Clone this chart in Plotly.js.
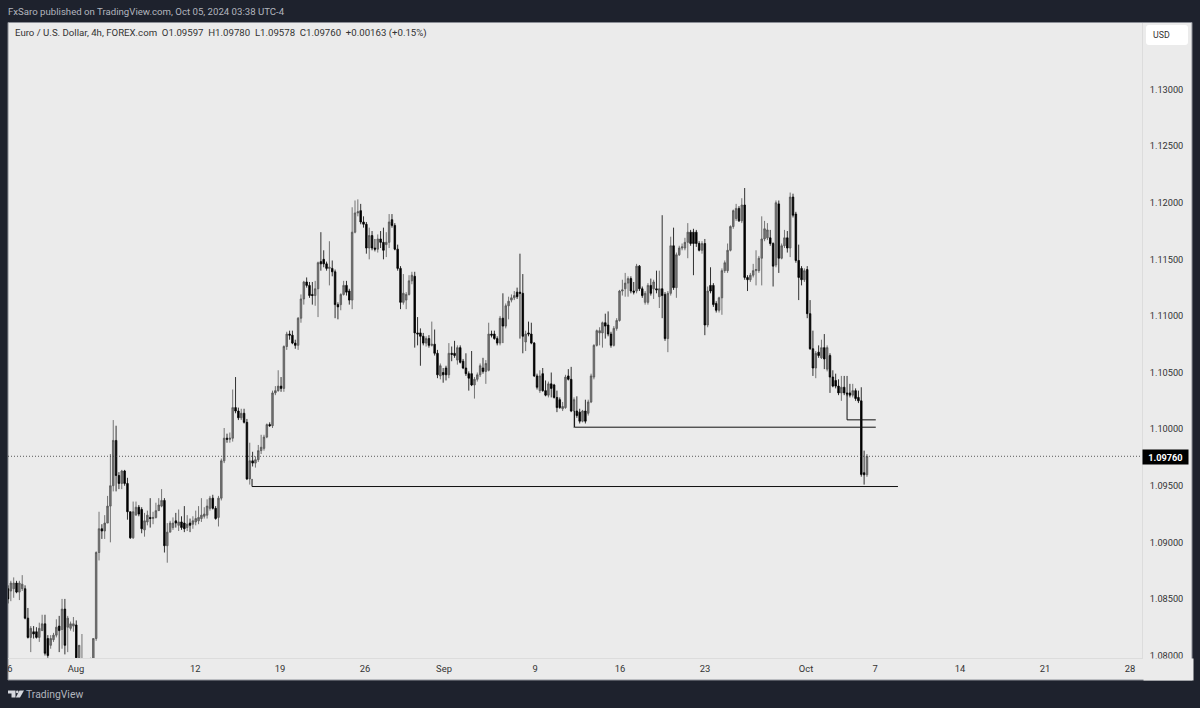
<!DOCTYPE html>
<html>
<head>
<meta charset="utf-8">
<script src="https://cdn.plot.ly/plotly-3.0.1.min.js"></script>
<style>html,body{margin:0;padding:0;background:#1e222d;overflow:hidden}</style>
</head>
<body>
<div id="chart" style="width:1200px;height:708px"></div>
<script>
const opens = [
1.0859,1.0857,1.0859,1.0864,1.0856,1.0859,1.0859,1.0833,1.0816,1.0821,
1.0821,1.0816,1.0822,1.0828,1.0815,1.0809,1.0814,1.0818,1.0826,1.0823,
1.0841,1.0825,1.0824,1.0826,1.0827,1.0798,1.0790,1.0790,1.0788,1.0785,
1.0792,1.0815,1.0891,1.0912,1.0910,1.0917,1.0932,1.0950,1.0990,1.0959,
1.0952,1.0963,1.0952,1.0927,1.0904,1.0924,1.0931,1.0929,1.0911,1.0918,
1.0922,1.0921,1.0922,1.0928,1.0932,1.0937,1.0897,1.0909,1.0913,1.0919,
1.0915,1.0918,1.0917,1.0913,1.0917,1.0916,1.0918,1.0919,1.0921,1.0923,
1.0924,1.0930,1.0939,1.0930,1.0922,1.0939,1.0972,1.0992,1.0991,1.0992,
1.1019,1.1016,1.1010,1.1014,1.1006,1.0956,1.0972,1.0970,1.0973,1.0981,
1.0983,1.0993,1.1004,1.1003,1.1032,1.1034,1.1038,1.1036,1.1073,1.1084,
1.1083,1.1076,1.1074,1.1098,1.1115,1.1130,1.1127,1.1119,1.1118,1.1124,
1.1148,1.1150,1.1146,1.1142,1.1142,1.1139,1.1110,1.1110,1.1119,1.1127,
1.1122,1.1114,1.1174,1.1191,1.1193,1.1183,1.1181,1.1160,1.1171,1.1160,
1.1159,1.1168,1.1165,1.1163,1.1165,1.1185,1.1180,1.1159,1.1142,1.1112,
1.1114,1.1119,1.1131,1.1135,1.1085,1.1085,1.1082,1.1076,1.1080,1.1074,
1.1075,1.1067,1.1047,1.1050,1.1054,1.1048,1.1067,1.1067,1.1061,1.1072,
1.1060,1.1054,1.1049,1.1049,1.1039,1.1044,1.1048,1.1054,1.1051,1.1052,
1.1084,1.1084,1.1080,1.1076,1.1098,1.1091,1.1109,1.1114,1.1116,1.1121,
1.1121,1.1120,1.1077,1.1085,1.1084,1.1076,1.1047,1.1034,1.1049,1.1034,
1.1030,1.1040,1.1039,1.1028,1.1026,1.1018,1.1019,1.1047,1.1044,1.1016,
1.1016,1.1015,1.1007,1.1016,1.1014,1.1024,1.1046,1.1074,1.1085,1.1085,
1.1094,1.1092,1.1084,1.1074,1.1089,1.1096,1.1122,1.1124,1.1129,1.1133,
1.1122,1.1122,1.1144,1.1124,1.1112,1.1112,1.1127,1.1124,1.1124,1.1117,
1.1124,1.1119,1.1080,1.1120,1.1162,1.1125,1.1154,1.1160,1.1160,1.1165,
1.1174,1.1174,1.1174,1.1164,1.1158,1.1164,1.1092,1.1127,1.1127,1.1111,
1.1105,1.1116,1.1140,1.1140,1.1158,1.1179,1.1186,1.1195,1.1184,1.1198,
1.1134,1.1132,1.1136,1.1140,1.1140,1.1151,1.1168,1.1169,1.1169,1.1164,
1.1145,1.1199,1.1151,1.1162,1.1169,1.1160,1.1205,1.1190,1.1149,1.1142,
1.1132,1.1141,1.1102,1.1071,1.1054,1.1068,1.1063,1.1072,1.1053,1.1065,
1.1046,1.1043,1.1038,1.1032,1.1037,1.1032,1.1032,1.1030,1.1034,1.1028,
1.1025,1.09615,1.09597];
const highs = [
1.0862,1.0866,1.0869,1.0866,1.0866,1.0871,1.0862,1.0842,1.0826,1.0826,
1.0825,1.0829,1.0836,1.0836,1.0818,1.0818,1.0820,1.0832,1.0835,1.0850,
1.0850,1.0835,1.0830,1.0834,1.0831,1.0809,1.0819,1.0794,1.0790,1.0798,
1.0815,1.0892,1.0927,1.0916,1.0924,1.0941,1.0978,1.1008,1.1003,1.0962,
1.0964,1.0964,1.0957,1.0927,1.0936,1.0936,1.0933,1.0931,1.0926,1.0928,
1.0939,1.0927,1.0935,1.0939,1.0947,1.0939,1.0917,1.0919,1.0922,1.0926,
1.0929,1.0923,1.0932,1.0924,1.0921,1.0923,1.0928,1.0932,1.0939,1.0931,
1.0938,1.0941,1.0942,1.0932,1.0941,1.0974,1.1001,1.0996,1.0997,1.1035,
1.1046,1.1019,1.1018,1.1018,1.1009,1.0988,1.0980,1.0976,1.0986,1.0995,
1.0995,1.1005,1.1006,1.1034,1.1038,1.1052,1.1046,1.1074,1.1086,1.1087,
1.1087,1.1079,1.1099,1.1119,1.1131,1.1134,1.1130,1.1130,1.1131,1.1148,
1.1174,1.1158,1.1148,1.1166,1.1149,1.1141,1.1112,1.1120,1.1131,1.1131,
1.1124,1.1196,1.1202,1.1203,1.1199,1.1188,1.1183,1.1178,1.1175,1.1168,
1.1172,1.1175,1.1178,1.1174,1.1190,1.1190,1.1182,1.1163,1.1144,1.1137,
1.1121,1.1136,1.1139,1.1139,1.1099,1.1089,1.1085,1.1082,1.1083,1.1095,
1.1088,1.1070,1.1058,1.1054,1.1056,1.1076,1.1073,1.1078,1.1074,1.1074,
1.1062,1.1067,1.1051,1.1069,1.1046,1.1050,1.1058,1.1063,1.1061,1.1094,
1.1087,1.1087,1.1082,1.1100,1.1120,1.1111,1.1117,1.1119,1.1122,1.1125,
1.1155,1.1137,1.1087,1.1095,1.1094,1.1077,1.1049,1.1052,1.1054,1.1043,
1.1042,1.1050,1.1040,1.1034,1.1028,1.1024,1.1048,1.1053,1.1055,1.1028,
1.1029,1.1018,1.1017,1.1026,1.1026,1.1049,1.1075,1.1088,1.1090,1.1095,
1.1102,1.1104,1.1086,1.1091,1.1098,1.1123,1.1132,1.1138,1.1135,1.1135,
1.1130,1.1146,1.1145,1.1126,1.1122,1.1129,1.1133,1.1132,1.1140,1.1140,
1.1189,1.1121,1.1122,1.1170,1.1178,1.1156,1.1162,1.1164,1.1169,1.1182,
1.1176,1.1177,1.1176,1.1166,1.1166,1.1168,1.1126,1.1143,1.1129,1.1113,
1.1117,1.1142,1.1149,1.1164,1.1180,1.1194,1.1199,1.1197,1.1204,1.1213,
1.1136,1.1138,1.1146,1.1158,1.1153,1.1188,1.1184,1.1182,1.1176,1.1165,
1.1202,1.1202,1.1164,1.1176,1.1175,1.1209,1.1208,1.1192,1.1163,1.1144,
1.1142,1.1144,1.1114,1.1087,1.1069,1.1074,1.1079,1.1084,1.1074,1.1067,
1.1052,1.1049,1.1044,1.1047,1.1047,1.1047,1.1040,1.1040,1.1036,1.1034,
1.1037,1.0981,1.09780];
const lows = [
1.0846,1.0848,1.0851,1.0855,1.0849,1.0857,1.0832,1.0815,1.0803,1.0815,
1.0815,1.0812,1.0822,1.0800,1.0798,1.0806,1.0812,1.0816,1.0803,1.0806,
1.0801,1.0803,1.0822,1.0821,1.0796,1.0795,1.0785,1.0780,1.0782,1.0780,
1.0790,1.0813,1.0884,1.0903,1.0903,1.0917,1.0900,1.0945,1.0945,1.0947,
1.0947,1.0950,1.0920,1.0903,1.0903,1.0924,1.0923,1.0908,1.0905,1.0915,
1.0913,1.0916,1.0921,1.0928,1.0931,1.0891,1.0882,1.0909,1.0911,1.0913,
1.0910,1.0911,1.0909,1.0910,1.0909,1.0912,1.0915,1.0916,1.0918,1.0921,
1.0921,1.0928,1.0929,1.0920,1.0914,1.0937,1.0970,1.0988,1.0988,1.0989,
1.1014,1.1008,1.1008,1.1005,1.0955,1.0951,1.0967,1.0966,1.0971,1.0978,
1.0981,1.0992,1.1002,1.1001,1.1030,1.1033,1.1033,1.1033,1.1070,1.1079,
1.1075,1.1071,1.1070,1.1094,1.1110,1.1125,1.1116,1.1110,1.1109,1.1099,
1.1140,1.1143,1.1140,1.1127,1.1135,1.1098,1.1097,1.1105,1.1118,1.1118,
1.1110,1.1106,1.1173,1.1188,1.1181,1.1178,1.1155,1.1150,1.1158,1.1157,
1.1156,1.1160,1.1150,1.1152,1.1160,1.1178,1.1158,1.1140,1.1106,1.1110,
1.1106,1.1118,1.1128,1.1072,1.1074,1.1056,1.1074,1.1073,1.1072,1.1073,
1.1065,1.1045,1.1044,1.1041,1.1043,1.1045,1.1060,1.1063,1.1057,1.1058,
1.1053,1.1047,1.1034,1.1038,1.1027,1.1042,1.1046,1.1049,1.1040,1.1051,
1.1081,1.1079,1.1074,1.1074,1.1076,1.1089,1.1097,1.1112,1.1114,1.1115,
1.1080,1.1067,1.1069,1.1082,1.1075,1.1046,1.1035,1.1032,1.1033,1.1029,
1.1028,1.1028,1.1027,1.1015,1.1018,1.1016,1.1018,1.1043,1.1015,1.1001,
1.1010,1.1005,1.1006,1.1005,1.1012,1.1023,1.1044,1.1073,1.1074,1.1072,
1.1080,1.1082,1.1072,1.1073,1.1087,1.1095,1.1118,1.1117,1.1117,1.1120,
1.1119,1.1120,1.1122,1.1116,1.1110,1.1110,1.1118,1.1115,1.1120,1.1107,
1.1098,1.1078,1.1068,1.1118,1.1123,1.1116,1.1153,1.1158,1.1158,1.1151,
1.1162,1.1136,1.1161,1.1157,1.1155,1.1083,1.1090,1.1120,1.1108,1.1103,
1.1103,1.1101,1.1138,1.1138,1.1157,1.1177,1.1184,1.1183,1.1182,1.1132,
1.1122,1.1130,1.1134,1.1127,1.1138,1.1127,1.1166,1.1167,1.1162,1.1126,
1.1143,1.1138,1.1150,1.1160,1.1156,1.1152,1.1187,1.1147,1.1114,1.1127,
1.1130,1.1098,1.1070,1.1047,1.1045,1.1063,1.1062,1.1053,1.1051,1.1032,
1.1037,1.1036,1.1030,1.1025,1.1030,1.1029,1.1028,1.1028,1.1025,1.1023,
1.0958,1.0951,1.09578];
const closes = [
1.0850,1.0864,1.0864,1.0856,1.0864,1.0863,1.0833,1.0816,1.0824,1.0819,
1.0816,1.0824,1.0828,1.0802,1.0800,1.0815,1.0818,1.0825,1.0822,1.0841,
1.0809,1.0833,1.0828,1.0828,1.0798,1.0809,1.0795,1.0788,1.0785,1.0790,
1.0815,1.0891,1.0912,1.0910,1.0917,1.0932,1.0950,1.0990,1.0959,1.0952,
1.0963,1.0952,1.0927,1.0904,1.0927,1.0931,1.0925,1.0912,1.0919,1.0924,
1.0921,1.0922,1.0928,1.0933,1.0937,1.0897,1.0909,1.0917,1.0917,1.0917,
1.0918,1.0913,1.0912,1.0916,1.0915,1.0919,1.0921,1.0922,1.0924,1.0925,
1.0932,1.0939,1.0930,1.0921,1.0939,1.0972,1.0992,1.0991,1.0992,1.1019,
1.1016,1.1010,1.1014,1.1006,1.0956,1.0972,1.0970,1.0973,1.0981,1.0984,
1.0993,1.1004,1.1003,1.1032,1.1034,1.1038,1.1036,1.1073,1.1084,1.1083,
1.1076,1.1074,1.1098,1.1115,1.1130,1.1127,1.1118,1.1118,1.1124,1.1147,
1.1146,1.1146,1.1142,1.1143,1.1139,1.1110,1.1108,1.1119,1.1127,1.1121,
1.1114,1.1174,1.1191,1.1192,1.1183,1.1181,1.1160,1.1171,1.1160,1.1159,
1.1168,1.1165,1.1158,1.1165,1.1183,1.1180,1.1159,1.1142,1.1112,1.1120,
1.1119,1.1131,1.1136,1.1085,1.1084,1.1082,1.1076,1.1080,1.1074,1.1075,
1.1067,1.1048,1.1056,1.1048,1.1048,1.1067,1.1066,1.1065,1.1072,1.1059,
1.1054,1.1049,1.1045,1.1039,1.1044,1.1048,1.1056,1.1051,1.1058,1.1084,
1.1083,1.1080,1.1076,1.1098,1.1091,1.1109,1.1113,1.1116,1.1118,1.1117,
1.1120,1.1082,1.1084,1.1084,1.1076,1.1047,1.1037,1.1047,1.1034,1.1030,
1.1040,1.1036,1.1028,1.1019,1.1019,1.1020,1.1046,1.1044,1.1016,1.1026,
1.1012,1.1007,1.1016,1.1007,1.1024,1.1047,1.1074,1.1087,1.1087,1.1094,
1.1091,1.1084,1.1074,1.1089,1.1096,1.1122,1.1123,1.1129,1.1133,1.1122,
1.1121,1.1144,1.1124,1.1118,1.1120,1.1127,1.1120,1.1130,1.1123,1.1124,
1.1118,1.1080,1.1120,1.1162,1.1125,1.1154,1.1160,1.1161,1.1165,1.1174,
1.1164,1.1164,1.1164,1.1158,1.1164,1.1092,1.1122,1.1122,1.1110,1.1105,
1.1116,1.1140,1.1147,1.1158,1.1179,1.1193,1.1195,1.1184,1.1198,1.1134,
1.1132,1.1136,1.1140,1.1141,1.1151,1.1168,1.1177,1.1176,1.1164,1.1144,
1.1200,1.1151,1.1162,1.1169,1.1160,1.1205,1.1189,1.1149,1.1134,1.1132,
1.1140,1.1102,1.1071,1.1054,1.1067,1.1065,1.1072,1.1062,1.1072,1.1046,
1.1038,1.1038,1.1032,1.1037,1.1032,1.1031,1.1030,1.1034,1.1027,1.1025,
1.0960,1.09597,1.09760];

const timeTickBars  = [0.7,23.9,65.8,95.6,125.5,153.3,185.3,215.2,245.1,280.6,304.9,334.7,364.6,394.5];
const timeTickText  = ['6','Aug','12','19','26','Sep','9','16','23','Oct','7','14','21','28'];
const priceTicks    = [1.08,1.085,1.09,1.095,1.10,1.105,1.11,1.115,1.12,1.125,1.13];
const lastPrice     = 1.0976;

const supportLowBars   = [85.8,85.8,312.9];
const supportLowPrices = [1.0956,1.09493,1.09493];
const supportMidBars   = [199.2,199.2,305.1];
const supportMidPrices = [1.1016,1.10017,1.10017];
const supportTopBars   = [295,295,305.1];
const supportTopPrices = [1.1031,1.10082,1.10082];

const headerText = 'FxSaro published on TradingView.com, Oct 05, 2024 03:38 UTC-4';
const legendText = 'Euro / U.S. Dollar, 4h, FOREX.com\u00a0\u00a0O1.09597\u00a0\u00a0H1.09780\u00a0\u00a0L1.09578\u00a0\u00a0C1.09760\u00a0\u00a0+0.00163 (+0.15%)';

const W=1200,H=708,L=8,R=1142,T=23,B=658;
const X=p=>(p-L)/(R-L), Y=p=>1-(p-T)/(B-T);
const P=(x,y)=>X(x).toFixed(5)+','+Y(y).toFixed(5);
const barRange=[0,398.7], priceRange=[1.07978,1.13588];
const bars=opens.map((_,i)=>i);
const ink='#333333', FONT='Roboto, sans-serif';

const lineTrace=(x,y)=>({type:'scatter',mode:'lines',x,y,line:{color:'#111',width:1},hoverinfo:'skip',showlegend:false});

const data=[
 {type:'scatter',mode:'lines',x:barRange,y:[lastPrice,lastPrice],line:{color:'#333',width:0.8,dash:'1px,2px'},hoverinfo:'skip',showlegend:false},
 {type:'candlestick',x:bars,open:opens,high:highs,low:lows,close:closes,whiskerwidth:0,
  increasing:{line:{color:'#555555',width:0.8},fillcolor:'#777777'},
  decreasing:{line:{color:'#000',width:0.8},fillcolor:'#000'},
  hoverinfo:'skip',showlegend:false},
 lineTrace(supportLowBars,supportLowPrices),
 lineTrace(supportMidBars,supportMidPrices),
 lineTrace(supportTopBars,supportTopPrices)
];

const ann=(text,x,y,o={})=>Object.assign({text,xref:'paper',yref:'paper',x:X(x),y:Y(y),xanchor:'left',yanchor:'middle',showarrow:false,borderpad:0,
  font:{family:FONT,size:o.size||9.6,color:o.color||ink}},o.extra||{});

const layout={
 width:W,height:H,
 margin:{l:L,r:W-R,t:T,b:H-B,pad:0},
 paper_bgcolor:'#1e222d',plot_bgcolor:'#e9e9e9',
 showlegend:false,dragmode:false,boxgap:0.22,
 xaxis:{range:barRange,type:'linear',rangeslider:{visible:false},showgrid:false,zeroline:false,
  tickmode:'array',tickvals:timeTickBars,ticktext:timeTickText,ticks:'outside',ticklen:2,tickcolor:'rgba(0,0,0,0)',
  tickfont:{family:FONT,size:9.4,color:ink},showline:true,linecolor:'#dcdcdc',linewidth:1,fixedrange:true},
 yaxis:{range:priceRange,side:'right',showgrid:false,zeroline:false,
  tickmode:'array',tickvals:priceTicks,tickformat:'.5f',ticks:'outside',ticklen:5,tickcolor:'rgba(0,0,0,0)',
  tickfont:{family:FONT,size:9.2,color:ink},showline:true,linecolor:'#dcdcdc',linewidth:1,fixedrange:true},
 shapes:[
  {type:'rect',xref:'paper',yref:'paper',x0:X(8),x1:X(1192),y0:Y(680),y1:Y(22.5),fillcolor:'#ebebeb',line:{color:'#8b8e96',width:1},layer:'below'},
  {type:'path',xref:'paper',yref:'paper',layer:'above',fillcolor:'#ffffff',line:{width:0},
   path:`M${P(1149,25)} L${P(1185,25)} Q${P(1188,25)} ${P(1188,28)} L${P(1188,42)} Q${P(1188,45)} ${P(1185,45)} L${P(1149,45)} Q${P(1146,45)} ${P(1146,42)} L${P(1146,28)} Q${P(1146,25)} ${P(1149,25)} Z`},
  {type:'path',xref:'paper',yref:'paper',layer:'above',fillcolor:'#d6d8de',line:{width:0},
   path:`M${P(8,690.5)} L${P(15.5,690.5)} L${P(15.5,697.5)} L${P(11.5,697.5)} L${P(11.5,693.5)} L${P(8,693.5)} Z`},
  {type:'circle',xref:'paper',yref:'paper',layer:'above',fillcolor:'#d6d8de',line:{width:0},x0:X(16),x1:X(18.6),y0:Y(693.2),y1:Y(690.6)},
  {type:'path',xref:'paper',yref:'paper',layer:'above',fillcolor:'#d6d8de',line:{width:0},
   path:`M${P(19.5,690.5)} L${P(24,690.5)} L${P(20,697.5)} L${P(15.8,697.5)} Z`}
 ],
 annotations:[
  ann(headerText,7,12,{size:9.65,color:'#b2b5be'}),
  ann(legendText,14,33,{size:9.65}),
  ann('USD',1152,35.5,{size:8.8}),
  ann('\u00a0',1143,669,{extra:{width:49,height:21,bgcolor:'#ebebeb',xanchor:'left'}}),
  ann('<b>1.09760</b>',1165.5,456.5,{size:9.2,color:'#ffffff',extra:{xanchor:'center',width:45,height:14,bgcolor:'#000000',align:'center'}}),
  ann('TradingView',25,694,{size:10.4,color:'#b2b5be'})
 ]
};
Plotly.newPlot('chart',data,layout,{displayModeBar:false,staticPlot:true});
</script>
</body>
</html>
